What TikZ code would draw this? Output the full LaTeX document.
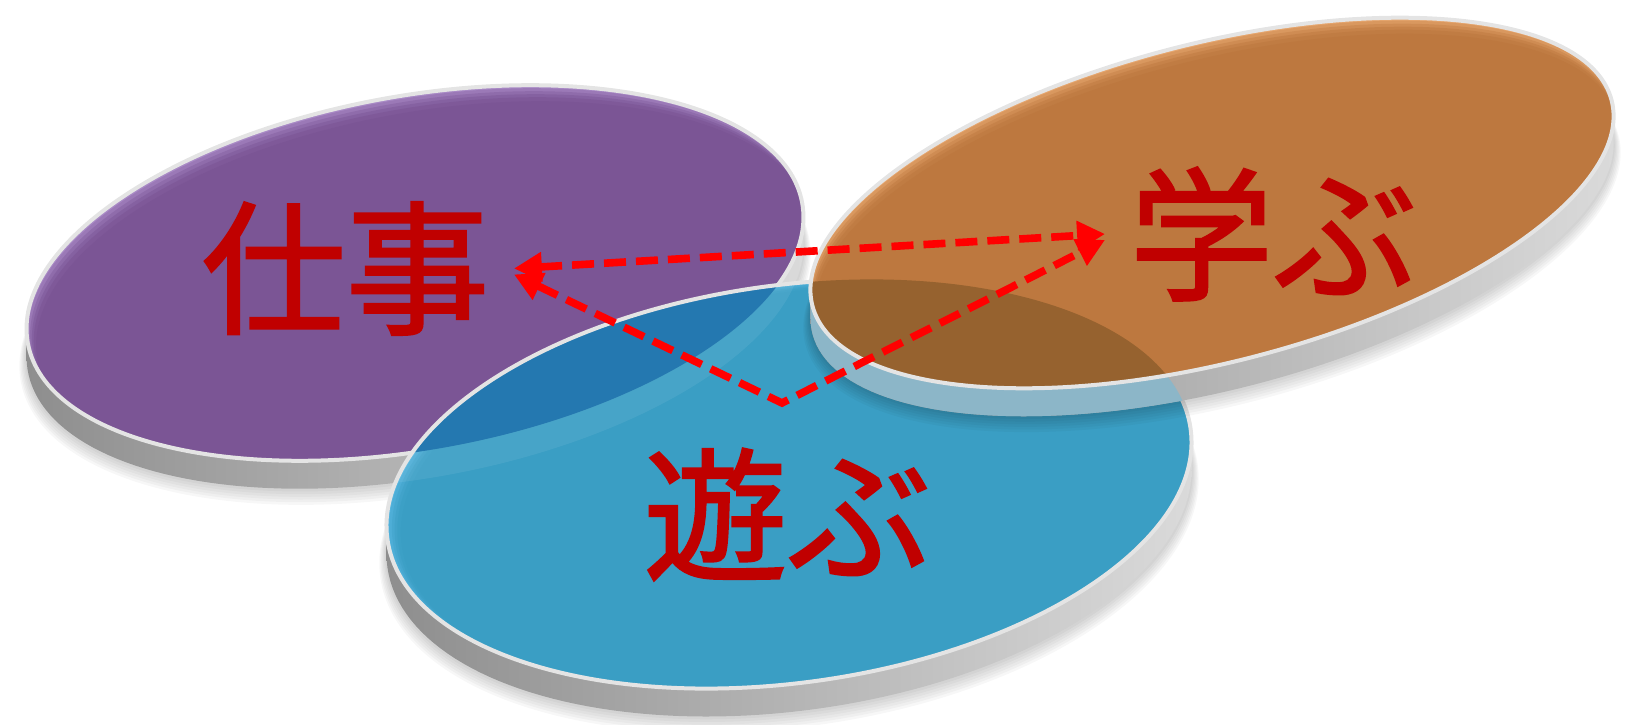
\documentclass[tikz,border=0pt]{standalone}
\usepackage{fontspec}
\newfontfamily\jpfont[AutoFakeBold=1.6]{Noto Sans CJK JP}
\usetikzlibrary{arrows.meta}
\definecolor{purpleMain}{HTML}{7B5595}
\definecolor{purpleLight}{HTML}{A98AC6}
\definecolor{orangeMain}{HTML}{BD783F}
\definecolor{orangeLight}{HTML}{E6A66E}
\definecolor{blueMain}{HTML}{3A9EC4}
\definecolor{blueLight}{HTML}{58B6E0}
\definecolor{pbOverlap}{HTML}{2478B0}
\definecolor{obOverlap}{HTML}{96622F}
\definecolor{rimOverBlue}{HTML}{8CB6C8}
\definecolor{txtRed}{HTML}{C00000}
\definecolor{arrRed}{HTML}{FF0000}
\definecolor{rimA}{HTML}{8E8E8E}
\definecolor{rimB}{HTML}{C4C4C4}
\definecolor{rimC}{HTML}{DADADA}
\definecolor{edgeCol}{HTML}{E4E4E4}
% cx cy a b th
\newcommand\discclip[5]{\clip[rotate around={#5:(#1,#2)}] (#1,#2) ellipse[x radius=#3,y radius=#4];}
\newcommand\discedge[5]{\draw[edgeCol,line width=2pt,rotate around={#5:(#1,#2)}] (#1,#2) ellipse[x radius=#3,y radius=#4];}
% cx cy a b th t
\newcommand\discshadow[6]{\foreach \k in {1,...,6}{%
  \fill[black,opacity=0.03,rotate around={#5:(#1,#2-#6-1.5*\k)}] (#1,#2-#6-1.5*\k) ellipse[x radius=#3+1.2*\k,y radius=#4+1.2*\k];}}
% cx cy a b th t uR
\newcommand\rimpath[7]{plot[domain=0:180,samples=91,variable=\v]
  ({#1+#3*cos(#5)*cos(#7-180+\v)-#4*sin(#5)*sin(#7-180+\v)},{#2+#3*sin(#5)*cos(#7-180+\v)+#4*cos(#5)*sin(#7-180+\v)})
  -- plot[domain=0:180,samples=91,variable=\v]
  ({#1+#3*cos(#5)*cos(#7-\v)-#4*sin(#5)*sin(#7-\v)},{#2-#6+#3*sin(#5)*cos(#7-\v)+#4*cos(#5)*sin(#7-\v)})
  -- cycle}
\newcommand\discrim[7]{\shade[left color=rimA,middle color=rimB,right color=rimC] \rimpath{#1}{#2}{#3}{#4}{#5}{#6}{#7};}
% cx cy a b th main light dx dy
\newcommand\discface[9]{%
  \begin{scope}
    \discclip{#1}{#2}{#3}{#4}{#5}
    \fill[#7,rotate around={#5:(#1,#2)}] (#1,#2) ellipse[x radius=#3,y radius=#4];
    \foreach \k/\op in {3/0.3,6/0.35,9/0.45,12/0.6,16/1}{%
      \fill[#6,opacity=\op,rotate around={#5:(#1+#8*\k,#2+#9*\k)}] (#1+#8*\k,#2+#9*\k) ellipse[x radius=#3,y radius=#4];}
  \end{scope}}
\begin{document}
\begin{tikzpicture}[x=0.5pt,y=0.5pt,
  lbl/.style={font=\jpfont\bfseries\fontsize{72}{80}\selectfont, text=txtRed, inner sep=12pt, anchor=base},
  dasharrow/.style={draw=arrRed, line width=3.8pt, dash pattern=on 11pt off 5pt,
    {Triangle[length=14pt,width=14pt]}-{Triangle[length=14pt,width=14pt]}}]
\useasboundingbox (0,0) rectangle (1630,724);
% purple disc
\discshadow{415}{451}{393.5}{177}{10.27}{28}
\discrim{415}{451}{393.5}{177}{10.27}{28}{-4.66}
\discface{415}{451}{393.5}{177}{10.27}{purpleMain}{purpleLight}{0.6}{-1}
\discedge{415}{451}{393.5}{177}{10.27}
% blue disc
\discshadow{789}{240}{405.4}{198.8}{7.83}{28}
\discrim{789}{240}{405.4}{198.8}{7.83}{28}{-3.86}
\discface{789}{240}{405.4}{198.8}{7.83}{blueMain}{blueLight}{0.9}{-0.4}
\begin{scope}
  \discclip{789}{240}{405.4}{198.8}{7.83}
  \fill[pbOverlap,rotate around={10.27:(415,451)}] (415,451) ellipse[x radius=393.5,y radius=177];
  \fill[white,opacity=0.07] \rimpath{415}{451}{393.5}{177}{10.27}{28}{-4.66};
\end{scope}
\discedge{789}{240}{405.4}{198.8}{7.83}
% orange disc
\discshadow{1212}{521}{412.6}{159.3}{14.4}{28}
\discrim{1212}{521}{412.6}{159.3}{14.4}{28}{-5.66}
\begin{scope}
  \discclip{789}{240}{405.4}{198.8}{7.83}
  \fill[rimOverBlue] \rimpath{1212}{521}{412.6}{159.3}{14.4}{28}{-5.66};
\end{scope}
\discface{1212}{521}{412.6}{159.3}{14.4}{orangeMain}{orangeLight}{0.3}{-1}
\begin{scope}
  \discclip{1212}{521}{412.6}{159.3}{14.4}
  \fill[obOverlap,rotate around={7.83:(789,240)}] (789,240) ellipse[x radius=405.4,y radius=198.8];
\end{scope}
\discedge{1212}{521}{412.6}{159.3}{14.4}
% labels
\node[lbl] (shigoto) at (345.5,401) {仕事};
\node[lbl] (manabu) at (1273.5,435) {学ぶ};
\node[lbl] (asobu) at (787.5,154) {遊ぶ};
\coordinate (v) at (782,321);
% arrows
\draw[dasharrow] (shigoto.east) -- (manabu.west);
\draw[dasharrow] (shigoto.-2) -- (v) -- (manabu.182);
\end{tikzpicture}
\end{document}
